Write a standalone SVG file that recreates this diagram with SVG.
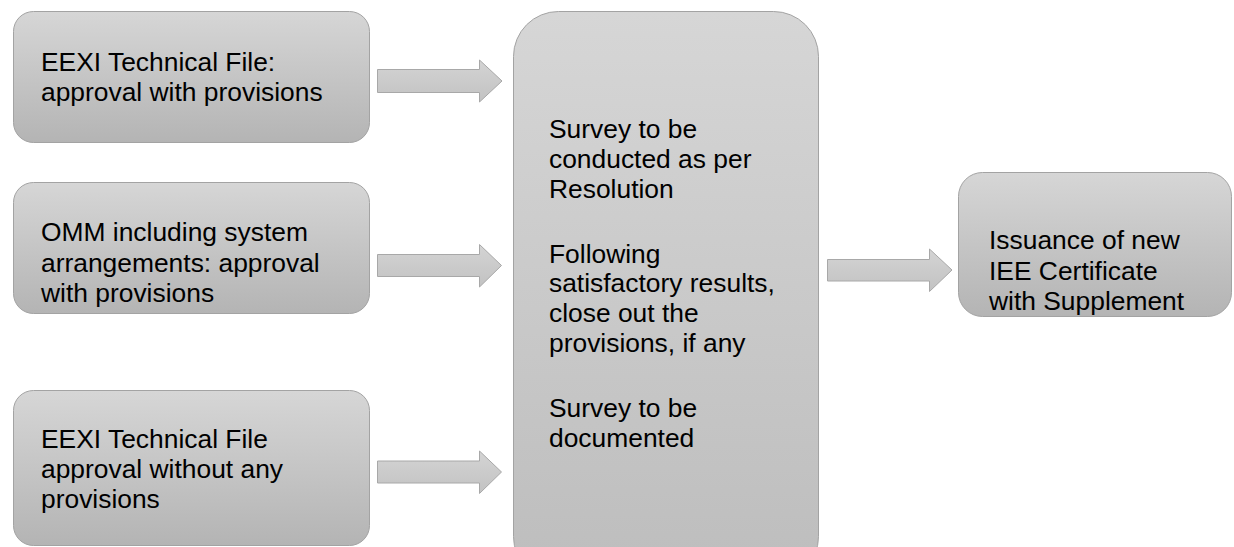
<svg xmlns="http://www.w3.org/2000/svg" width="1234" height="547" viewBox="0 0 1234 547">
  <defs>
    <linearGradient id="gBox" x1="0" y1="0" x2="0" y2="1">
      <stop offset="0" stop-color="#d6d6d6"/>
      <stop offset="1" stop-color="#b4b4b4"/>
    </linearGradient>
    <linearGradient id="gMid" x1="0" y1="0" x2="0" y2="1">
      <stop offset="0" stop-color="#d6d6d6"/>
      <stop offset="1" stop-color="#bdbdbd"/>
    </linearGradient>
    <linearGradient id="gArrow" x1="0" y1="0" x2="0" y2="1">
      <stop offset="0" stop-color="#d4d4d4"/>
      <stop offset="1" stop-color="#c2c2c2"/>
    </linearGradient>
    <style>
      .box { fill: url(#gBox); stroke: #a3a3a3; stroke-width: 1; }
      .mid { fill: url(#gMid); stroke: #a3a3a3; stroke-width: 1; }
      .arrow { fill: url(#gArrow); stroke: #a8a8a8; stroke-width: 1; }
      text { font-family: "Liberation Sans", Arial, sans-serif; font-size: 26.4px; fill: #000; }
    </style>
  </defs>
  <rect width="1234" height="547" fill="#ffffff"/>

  <g id="node-eexi-provisions">
    <rect class="box" x="13.5" y="11.5" width="356" height="131" rx="20" ry="20"/>
    <text x="41"><tspan x="41" y="71">EEXI Technical File:</tspan><tspan x="41" y="101">approval with provisions</tspan></text>
  </g>

  <g id="node-omm">
    <rect class="box" x="13.5" y="182.5" width="356" height="131" rx="20" ry="20"/>
    <text x="41"><tspan x="41" y="241">OMM including system</tspan><tspan x="41" y="272">arrangements: approval</tspan><tspan x="41" y="302">with provisions</tspan></text>
  </g>

  <g id="node-eexi-no-provisions">
    <rect class="box" x="13.5" y="390.5" width="356" height="155" rx="20" ry="20"/>
    <text x="41"><tspan x="41" y="448">EEXI Technical File</tspan><tspan x="41" y="478">approval without any</tspan><tspan x="41" y="508">provisions</tspan></text>
  </g>

  <g id="node-survey">
    <rect class="mid" x="513.5" y="11.5" width="305" height="570" rx="45" ry="45"/>
    <text x="549"><tspan x="549" y="138">Survey to be</tspan><tspan x="549" y="168">conducted as per</tspan><tspan x="549" y="198">Resolution</tspan><tspan x="549" y="263">Following</tspan><tspan x="549" y="292">satisfactory results,</tspan><tspan x="549" y="322">close out the</tspan><tspan x="549" y="352">provisions, if any</tspan><tspan x="549" y="417">Survey to be</tspan><tspan x="549" y="447">documented</tspan></text>
  </g>

  <g id="node-issuance">
    <rect class="box" x="958.5" y="172.5" width="273" height="144" rx="24" ry="24"/>
    <text x="989"><tspan x="989" y="249">Issuance of new</tspan><tspan x="989" y="280">IEE Certificate</tspan><tspan x="989" y="310">with Supplement</tspan></text>
  </g>

  <g id="connectors">
    <path class="arrow" d="M377.5 69.5 H479.5 V60 L502 81 L479.5 102 V92.5 H377.5 Z"/>
    <path class="arrow" d="M377.5 254.5 H479.5 V244.5 L501.5 265.5 L479.5 287 V276.5 H377.5 Z"/>
    <path class="arrow" d="M377.5 461 H479.5 V451 L501.5 472 L479.5 493.5 V483 H377.5 Z"/>
    <path class="arrow" d="M827.5 259.5 H929.5 V249 L952 270 L929.5 291.5 V281 H827.5 Z"/>
  </g>
</svg>
